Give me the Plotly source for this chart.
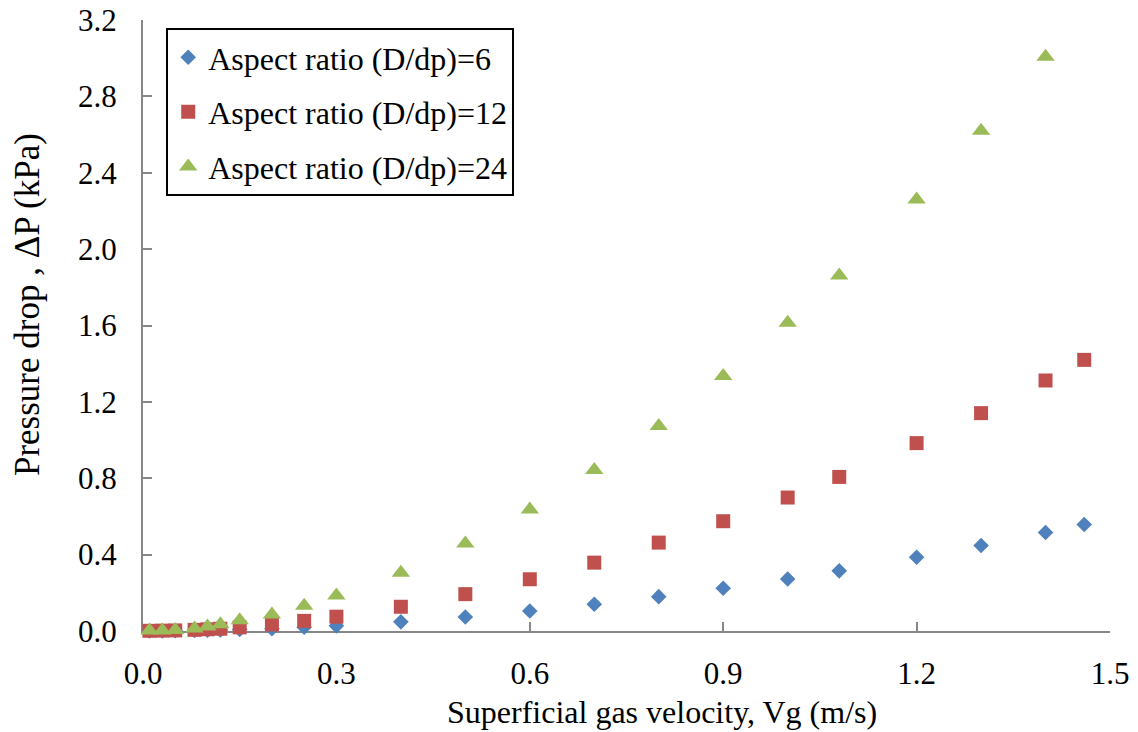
import plotly.graph_objects as go

# Superficial gas velocity (m/s)
velocity = [0.01, 0.03, 0.05, 0.08, 0.10, 0.12, 0.15, 0.20, 0.25, 0.30, 0.40,
            0.50, 0.60, 0.70, 0.80, 0.90, 1.00, 1.08, 1.20, 1.30, 1.40, 1.46]
velocity_24 = [0.01, 0.03, 0.05, 0.08, 0.10, 0.12, 0.15, 0.20, 0.25, 0.30, 0.40,
               0.50, 0.60, 0.70, 0.80, 0.90, 1.00, 1.08, 1.20, 1.30, 1.40]

# Pressure drop (kPa)
dp_ratio_6 = [0.0003, 0.0008, 0.0015, 0.003, 0.004, 0.005, 0.008, 0.012, 0.020, 0.027, 0.048,
              0.073, 0.105, 0.140, 0.180, 0.224, 0.272, 0.315, 0.386, 0.448, 0.516, 0.558]
dp_ratio_12 = [0.001, 0.002, 0.003, 0.006, 0.009, 0.012, 0.019, 0.034, 0.053, 0.075, 0.127,
               0.193, 0.271, 0.358, 0.463, 0.575, 0.699, 0.807, 0.984, 1.141, 1.312, 1.420]
dp_ratio_24 = [0.002, 0.003, 0.005, 0.013, 0.024, 0.035, 0.056, 0.086, 0.132, 0.186, 0.305,
               0.458, 0.636, 0.843, 1.073, 1.335, 1.615, 1.862, 2.260, 2.620, 3.008]

series_names = ["Aspect ratio (D/dp)=6", "Aspect ratio (D/dp)=12", "Aspect ratio (D/dp)=24"]
x_ticks = [0.0, 0.3, 0.6, 0.9, 1.2, 1.5]
y_ticks = [0.0, 0.4, 0.8, 1.2, 1.6, 2.0, 2.4, 2.8, 3.2]
x_title = "Superficial gas velocity, Vg (m/s)"
y_title = "Pressure drop , ΔP (kPa)"

FONT = "Liberation Serif"
AXIS_GRAY = "#878787"

fig = go.Figure()
fig.add_trace(go.Scatter(
    x=velocity, y=dp_ratio_6, mode="markers", name=series_names[0],
    legendgroup="a", cliponaxis=False,
    marker=dict(symbol="diamond", size=12, color="#4F81BD",
                line=dict(width=0))))
fig.add_trace(go.Scatter(
    x=velocity, y=dp_ratio_12, mode="markers", name=series_names[1],
    legendgroup="b", cliponaxis=False,
    marker=dict(symbol="square", size=14, color="#C0504D",
                line=dict(width=0))))
fig.add_trace(go.Scatter(
    x=velocity_24, y=dp_ratio_24, mode="markers", name=series_names[2],
    legendgroup="c", cliponaxis=False,
    marker=dict(symbol="triangle-up", size=16, color="#9BBB59",
                line=dict(width=0))))

fig.update_layout(
    template="none",
    width=1138, height=732,
    margin=dict(l=143, r=28, t=20, b=101, autoexpand=False),
    paper_bgcolor="white", plot_bgcolor="white",
    font=dict(family=FONT, size=32, color="black"),
    showlegend=True,
    legend=dict(
        x=0.024, y=0.987, xanchor="left", yanchor="top",
        bgcolor="white", bordercolor="black", borderwidth=2,
        font=dict(family=FONT, size=32, color="black"),
        traceorder="grouped", tracegroupgap=10,
    ),
    xaxis=dict(
        range=[0, 1.5], tickvals=x_ticks, tickformat=".1f",
        ticks="inside", ticklen=9, tickwidth=2, tickcolor=AXIS_GRAY,
        showline=True, linecolor=AXIS_GRAY, linewidth=2, mirror=False,
        showgrid=False, zeroline=False, layer="below traces",
        automargin=False, ticklabelstandoff=14, ticklabeloverflow="allow",
        tickfont=dict(family=FONT, size=31, color="black"),
    ),
    yaxis=dict(
        range=[0, 3.2], tickvals=y_ticks, tickformat=".1f",
        ticks="inside", ticklen=9, tickwidth=2, tickcolor=AXIS_GRAY,
        showline=True, linecolor=AXIS_GRAY, linewidth=2, mirror=False,
        showgrid=False, zeroline=False, layer="below traces",
        automargin=False, ticklabelstandoff=18, ticklabeloverflow="allow",
        tickfont=dict(family=FONT, size=31, color="black"),
    ),
    annotations=[
        dict(text=x_title, xref="paper", yref="paper", x=0.537, y=-0.133,
             xanchor="center", yanchor="middle", showarrow=False,
             font=dict(family=FONT, size=32, color="black")),
        dict(text=y_title, xref="paper", yref="paper", x=-0.12, y=0.535,
             xanchor="center", yanchor="middle", textangle=-90, showarrow=False,
             font=dict(family=FONT, size=35, color="black")),
    ],
)

fig.write_html(
    "out.html",
    config={"displayModeBar": False},
    post_script="document.body.style.margin='0';document.body.style.overflow='hidden';",
)
